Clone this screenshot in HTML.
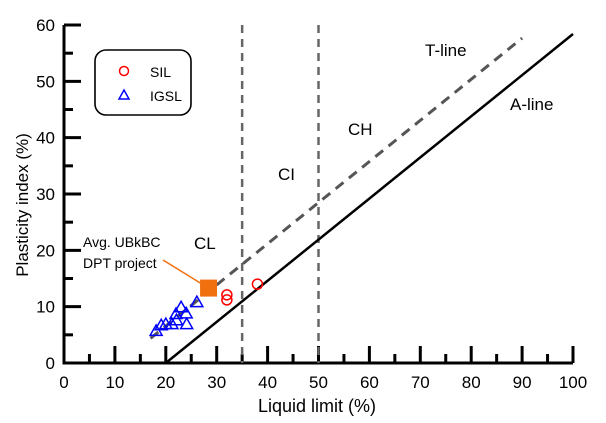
<!DOCTYPE html>
<html><head><meta charset="utf-8"><style>
body{margin:0;background:#fff}
svg{display:block;font-family:"Liberation Sans",sans-serif}
</style></head><body>
<svg id="chart" width="606" height="423" viewBox="0 0 606 423" xmlns="http://www.w3.org/2000/svg">
<g id="g"></g>
</svg>
<script>
const xTicks=[0,10,20,30,40,50,60,70,80,90,100];
const yTicks=[0,10,20,30,40,50,60];
const igslLL=[18.1,19.1,20.0,21.2,22.0,22.1,23.0,24.0,24.1,26.1];
const igslPI=[5.7,6.7,6.9,6.9,8.7,7.6,9.9,8.8,6.9,10.8];
const silLL=[32.0,32.0,38.0];
const silPI=[12.1,11.2,14.0];
const avgLL=[28.4];
const avgPI=[13.3];
const NS="http://www.w3.org/2000/svg";
const g=document.getElementById('g');
const X=v=>64+v*5.09;
const Y=v=>363-v*5.633;
function el(t,a,txt){const e=document.createElementNS(NS,t);for(const k in a)e.setAttribute(k,a[k]);if(txt!==undefined)e.textContent=txt;g.appendChild(e);return e;}
let e=el('path',{d:`M${X(0)} ${Y(60)}V${Y(0)}H${X(100)}`,fill:'none',stroke:'#000','stroke-width':3});


for(let v=0;v<=100;v+=5){const L=v%10===0?17:9;
 e=el('line',{x1:X(v),x2:X(v),y1:Y(0),y2:Y(0)-L,stroke:'#000','stroke-width':3});
 
 }
for(let v=0;v<=60;v+=5){const L=v%10===0?17:9;
 e=el('line',{x1:X(0),x2:X(0)+L,y1:Y(v),y2:Y(v),stroke:'#000','stroke-width':3});
 
 }
xTicks.forEach(v=>{e=el('text',{x:X(v),y:388,'text-anchor':'middle','font-size':17},String(v));
 
 });
yTicks.forEach(v=>{e=el('text',{x:55,y:Y(v)+6,'text-anchor':'end','font-size':17},String(v));
 
 });
e=el('text',{x:317,y:412,'text-anchor':'middle','font-size':18},'Liquid limit (%)');


e=el('text',{x:0,y:0,'text-anchor':'middle','font-size':17,transform:`translate(28,205) rotate(-90)`},'Plasticity index (%)');


[35,50].forEach(v=>{e=el('line',{x1:X(v),x2:X(v),y1:Y(60),y2:Y(0),stroke:'#666','stroke-width':2.5,'stroke-dasharray':'8,6'});
 
 });
e=el('line',{x1:X(20),y1:Y(0),x2:X(100),y2:Y(0.73*80),stroke:'#000','stroke-width':2.5});


e=el('line',{x1:X(17),y1:Y(0.73*6),x2:X(90),y2:Y(0.73*79),stroke:'#555','stroke-width':3,'stroke-dasharray':'10,7'});


igslLL.forEach((v,i)=>{const x=X(v),y=Y(igslPI[i]);
 e=el('path',{d:`M${x} ${y-6}L${x+6} ${y+4.5}L${x-6} ${y+4.5}Z`,fill:'none',stroke:'#0000ff','stroke-width':1.5});
 
 });
silLL.forEach((v,i)=>{e=el('circle',{cx:X(v),cy:Y(silPI[i]),r:5,fill:'none',stroke:'#ff0000','stroke-width':1.5});
 
 });
e=el('line',{x1:163,y1:260,x2:X(avgLL[0]),y2:Y(avgPI[0]),stroke:'#f07010','stroke-width':1.5});


avgLL.forEach((v,i)=>{e=el('rect',{x:X(v)-8.5,y:Y(avgPI[i])-8.5,width:17,height:17,fill:'#f07010'});
 
 });
e=el('text',{x:83,y:247,'font-size':14},'Avg. UBkBC');


e=el('text',{x:83,y:268,'font-size':14},'DPT project');


[['CL',194,249],['CI',278,180],['CH',348,135],['T-line',425,56],['A-line',510,110]].forEach(a=>{
 e=el('text',{x:a[1],y:a[2],'font-size':17},a[0]);
 
 });
e=el('rect',{x:95,y:50,width:96,height:65,rx:11,fill:'#fff',stroke:'#000','stroke-width':1.6});


e=el('circle',{cx:124,cy:71,r:4.5,fill:'none',stroke:'#ff0000','stroke-width':1.5});


e=el('text',{x:150,y:77,'font-size':14},'SIL');


e=el('path',{d:'M124 90L129 99L119 99Z',fill:'none',stroke:'#0000ff','stroke-width':1.5});


e=el('text',{x:150,y:101,'font-size':14},'IGSL');


</script>
</body></html>
